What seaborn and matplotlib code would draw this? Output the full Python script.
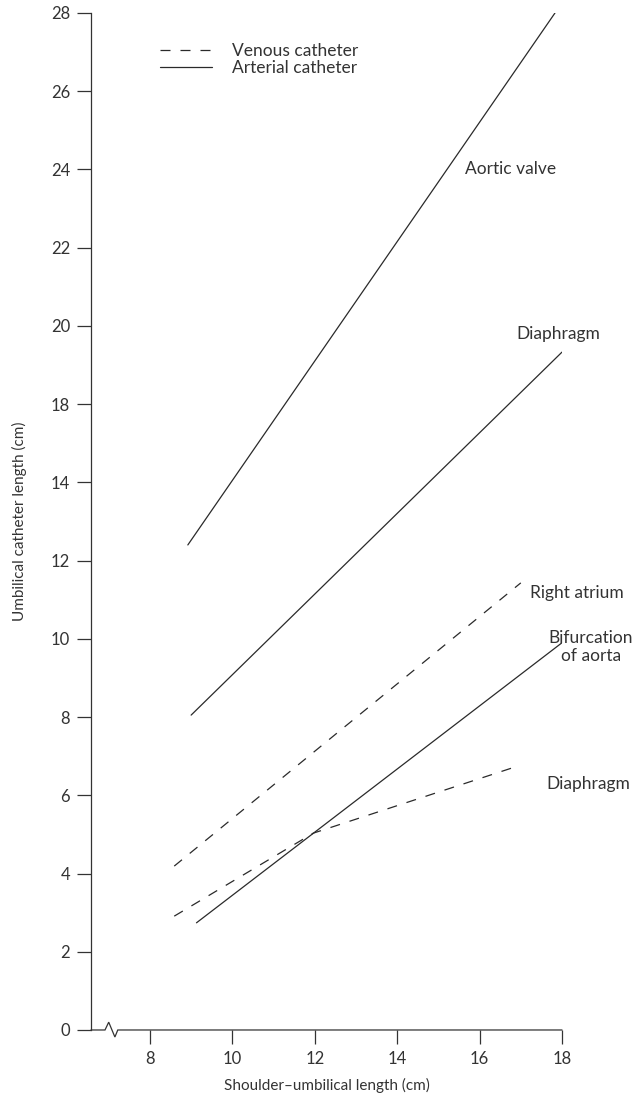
import numpy as np
import pandas as pd
import matplotlib.pyplot as plt
from matplotlib.lines import Line2D
import seaborn as sns

sns.set_style("ticks")
plt.rcParams['font.family'] = ['Lato', 'DejaVu Sans']

# y axis of the original is evenly spaced but its labels skip 16,
# so lines are given in tick-position units (one tick every 2 units)
y_tick_labels = [0, 2, 4, 6, 8, 10, 12, 14, 18, 20, 22, 24, 26, 28]
x_ticks = [8, 10, 12, 14, 16, 18]

# line end points
aortic_x = [8.92, 17.83]
aortic_y = [12.4, 26.0]
diaph_art_x = [9.0, 18.0]
diaph_art_y = [8.05, 17.33]
bifurc_x = [9.13, 18.0]
bifurc_y = [2.74, 9.9]
atrium_x = [8.59, 17.0]
atrium_y = [4.19, 11.43]
diaph_ven_x = [8.59, 11.96, 16.85]
diaph_ven_y = [2.91, 5.03, 6.72]

def make_df():
    rows = []
    series = [
        ('Aortic valve', 'Arterial catheter', aortic_x, aortic_y),
        ('Diaphragm (arterial)', 'Arterial catheter', diaph_art_x, diaph_art_y),
        ('Bifurcation of aorta', 'Arterial catheter', bifurc_x, bifurc_y),
        ('Right atrium', 'Venous catheter', atrium_x, atrium_y),
        ('Diaphragm (venous)', 'Venous catheter', diaph_ven_x, diaph_ven_y),
    ]
    for site, cath, xs, ys in series:
        for x, y in zip(xs, ys):
            rows.append({'site': site, 'catheter': cath, 'x': x, 'y': y})
    return pd.DataFrame(rows)

df = make_df()
ink = '#2a2a2a'
grey = '#333333'
dash = (8, 8)

fig = plt.figure(figsize=(6.39, 10.99), dpi=100)
ax = fig.add_axes([0.1424, 0.0628, 0.7371, 0.9254])

sns.lineplot(data=df, x='x', y='y', units='site', estimator=None, sort=False,
             style='catheter',
             dashes={'Venous catheter': dash, 'Arterial catheter': ''},
             color=ink, linewidth=0.9, legend=False, ax=ax)

ax.set_xlim(6.57, 18)
ax.set_ylim(0, 26)
ax.set_yticks(np.arange(0, 27, 2))
ax.set_yticklabels([str(v) for v in y_tick_labels])
ax.set_xticks(x_ticks)
ax.set_xticklabels([str(v) for v in x_ticks])
ax.tick_params(direction='out', length=10, width=0.9, color=grey,
               labelsize=12, labelcolor=grey, pad=5)

sns.despine(ax=ax)
ax.spines['left'].set_color(grey)
ax.spines['left'].set_linewidth(0.9)
ax.spines['bottom'].set_visible(False)

# bottom axis with a break symbol
bx = [6.57, 6.91, 7.0, 7.15, 7.22, 18.0]
by = [0, 0, 0.2, -0.18, 0, 0]
ax.plot(bx, by, color=grey, lw=0.9, clip_on=False, solid_joinstyle='miter')

ax.set_xlabel('Shoulder\u2013umbilical length (cm)', fontsize=11, color=grey, labelpad=8)
ax.set_ylabel('Umbilical catheter length (cm)', fontsize=11, color=grey, labelpad=17)

txt = dict(fontsize=12.5, color=grey, va='center')
ax.text(15.65, 22.0, 'Aortic valve', ha='left', **txt)
ax.text(16.9, 17.79, 'Diaphragm', ha='left', **txt)
ax.text(17.23, 11.17, 'Right atrium', ha='left', **txt)
ax.text(18.7, 9.79, 'Bifurcation\nof aorta', ha='center', linespacing=1.2, **txt)
ax.text(17.63, 6.3, 'Diaphragm', ha='left', **txt)

handles = [Line2D([], [], color=ink, lw=0.9, linestyle=(0, dash)),
           Line2D([], [], color=ink, lw=0.9)]
ax.legend(handles, ['Venous catheter', 'Arterial catheter'], loc='upper left',
          bbox_to_anchor=(0.146, 0.97), frameon=False, fontsize=12.5,
          handlelength=3.0, handletextpad=1.15, labelspacing=0.05,
          borderpad=0, borderaxespad=0, labelcolor=grey)

plt.savefig('out.png', dpi=100)
